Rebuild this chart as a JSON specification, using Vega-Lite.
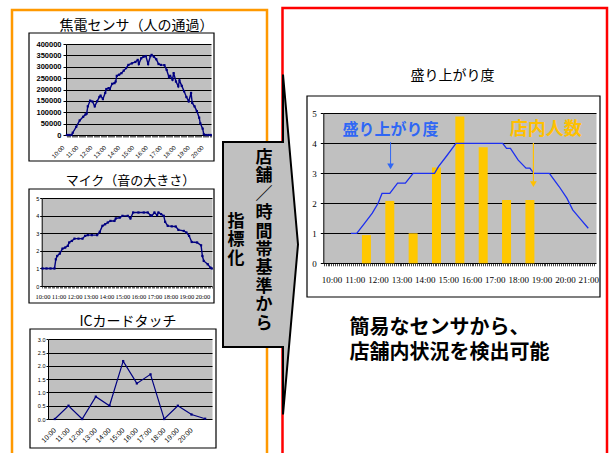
{
  "$schema": "https://vega.github.io/schema/vega-lite/v6.json",
  "width": 612,
  "height": 453,
  "autosize": {"type": "none"},
  "padding": 0,
  "background": "white",
  "config": {"view": {"stroke": null}, "axis": {"labelFont": "Liberation Sans", "labelColor": "black", "tickColor": "black", "domainColor": "black"}},
  "layer": [
    {
      "data": {"values": [{}]},
      "mark": {"type": "rect", "filled": false, "stroke": "#ff9900", "strokeWidth": 2.5},
      "encoding": {
        "x": {"datum": 0, "scale": {"domain": [0, 1], "range": [12, 267]}, "axis": null},
        "x2": {"datum": 1},
        "y": {"datum": 0, "scale": {"domain": [0, 1], "range": [10, 480]}, "axis": null},
        "y2": {"datum": 1}
      }
    },
    {
      "data": {"values": [{}]},
      "mark": {"type": "rect", "filled": false, "stroke": "#ff0000", "strokeWidth": 2.5},
      "encoding": {
        "x": {"datum": 0, "scale": {"domain": [0, 1], "range": [282.5, 607]}, "axis": null},
        "x2": {"datum": 1},
        "y": {"datum": 0, "scale": {"domain": [0, 1], "range": [8, 480]}, "axis": null},
        "y2": {"datum": 1}
      }
    },
    {
      "data": {"values": [{}]},
      "mark": {"type": "rect", "filled": false, "stroke": "black", "strokeWidth": 1.2},
      "encoding": {
        "x": {"datum": 0, "scale": {"domain": [0, 1], "range": [29, 214]}, "axis": null},
        "x2": {"datum": 1},
        "y": {"datum": 0, "scale": {"domain": [0, 1], "range": [33, 161]}, "axis": null},
        "y2": {"datum": 1}
      }
    },
    {
      "data": {"values": [{}]},
      "mark": {"type": "rect", "filled": false, "stroke": "black", "strokeWidth": 1.2},
      "encoding": {
        "x": {"datum": 0, "scale": {"domain": [0, 1], "range": [29, 214]}, "axis": null},
        "x2": {"datum": 1},
        "y": {"datum": 0, "scale": {"domain": [0, 1], "range": [189, 303]}, "axis": null},
        "y2": {"datum": 1}
      }
    },
    {
      "data": {"values": [{}]},
      "mark": {"type": "rect", "filled": false, "stroke": "black", "strokeWidth": 1.2},
      "encoding": {
        "x": {"datum": 0, "scale": {"domain": [0, 1], "range": [30, 216]}, "axis": null},
        "x2": {"datum": 1},
        "y": {"datum": 0, "scale": {"domain": [0, 1], "range": [329, 448]}, "axis": null},
        "y2": {"datum": 1}
      }
    },
    {
      "data": {"values": [{}]},
      "mark": {"type": "rect", "filled": false, "stroke": "black", "strokeWidth": 1.2},
      "encoding": {
        "x": {"datum": 0, "scale": {"domain": [0, 1], "range": [307, 600]}, "axis": null},
        "x2": {"datum": 1},
        "y": {"datum": 0, "scale": {"domain": [0, 1], "range": [96, 297]}, "axis": null},
        "y2": {"datum": 1}
      }
    },
    {
      "data": {
        "format": {"parse": {"t": "date:'%H:%M'"}},
        "values": [
          {"t": "10:00", "v": 0}, {"t": "10:10", "v": 0}, {"t": "10:20", "v": 0}, {"t": "10:25", "v": 10000},
          {"t": "10:40", "v": 36000}, {"t": "10:55", "v": 64000}, {"t": "11:10", "v": 80000}, {"t": "11:20", "v": 90000},
          {"t": "11:25", "v": 94000}, {"t": "11:30", "v": 126000}, {"t": "11:40", "v": 151000}, {"t": "11:50", "v": 147000},
          {"t": "12:00", "v": 126000}, {"t": "12:10", "v": 148000}, {"t": "12:20", "v": 167000}, {"t": "12:25", "v": 173000},
          {"t": "12:35", "v": 158000}, {"t": "12:45", "v": 185000}, {"t": "12:50", "v": 202000}, {"t": "13:00", "v": 206000},
          {"t": "13:05", "v": 202000}, {"t": "13:15", "v": 225000}, {"t": "13:25", "v": 228000}, {"t": "13:30", "v": 235000},
          {"t": "13:35", "v": 260000}, {"t": "13:45", "v": 265000}, {"t": "13:55", "v": 272000}, {"t": "14:05", "v": 283000},
          {"t": "14:15", "v": 294000}, {"t": "14:25", "v": 308000}, {"t": "14:40", "v": 315000}, {"t": "14:55", "v": 321000},
          {"t": "15:05", "v": 330000}, {"t": "15:10", "v": 312000}, {"t": "15:20", "v": 337000}, {"t": "15:30", "v": 344000},
          {"t": "15:40", "v": 347000}, {"t": "15:50", "v": 312000}, {"t": "16:00", "v": 347000}, {"t": "16:05", "v": 352000},
          {"t": "16:15", "v": 344000}, {"t": "16:25", "v": 333000}, {"t": "16:35", "v": 312000}, {"t": "16:45", "v": 308000},
          {"t": "17:00", "v": 307000}, {"t": "17:10", "v": 286000}, {"t": "17:20", "v": 254000}, {"t": "17:25", "v": 260000},
          {"t": "17:35", "v": 243000}, {"t": "17:40", "v": 272000}, {"t": "17:50", "v": 235000}, {"t": "18:00", "v": 214000},
          {"t": "18:05", "v": 240000}, {"t": "18:15", "v": 216000}, {"t": "18:25", "v": 192000}, {"t": "18:35", "v": 167000},
          {"t": "18:45", "v": 148000}, {"t": "18:55", "v": 185000}, {"t": "19:00", "v": 141000}, {"t": "19:10", "v": 126000},
          {"t": "19:20", "v": 105000}, {"t": "19:30", "v": 76000}, {"t": "19:35", "v": 51000}, {"t": "19:45", "v": 28000},
          {"t": "19:50", "v": 3000}, {"t": "20:00", "v": 0}, {"t": "20:10", "v": 0}, {"t": "20:20", "v": 0}
        ]
      },
      "layer": [
        {
          "mark": {"type": "line", "color": "#000080", "strokeWidth": 1.4},
          "encoding": {
            "x": {"field": "t", "type": "temporal",
              "scale": {"domain": [{"year": 1900, "month": 1, "date": 1, "hours": 9, "minutes": 56}, {"year": 1900, "month": 1, "date": 1, "hours": 20, "minutes": 21}], "range": [66, 211]},
              "axis": {"orient": "bottom", "offset": -318, "tickCount": 125, "labels": false, "domain": false, "grid": false, "ticks": true, "tickSize": 2, "tickWidth": 0.6, "title": null}},
            "y": {"field": "v", "type": "quantitative",
              "scale": {"domain": [0, 400000], "range": [135, 44]},
              "axis": {"orient": "left", "offset": -66, "values": [200000], "labels": false, "ticks": false, "domain": false, "grid": true, "gridColor": "#c0c0c0", "gridWidth": 91, "gridOpacity": 1,
                "title": "焦電センサ（人の通過）", "titleAngle": 0, "titleX": 70, "titleY": 25, "titleAlign": "center", "titleBaseline": "middle", "titleFont": "Noto Sans CJK JP", "titleFontSize": 14, "titleFontWeight": "normal", "titleColor": "black"}}
          }
        },
        {
          "mark": {"type": "point", "shape": "square", "filled": true, "color": "#000080", "size": 5, "opacity": 1},
          "encoding": {
            "x": {"field": "t", "type": "temporal",
              "axis": {"orient": "bottom", "offset": -318, "tickCount": 11, "format": "%H:%M", "labelAngle": -45, "labelFontSize": 6, "labelPadding": 9, "labelOffset": -6, "labelOverlap": false, "labelFlush": false, "ticks": false, "domain": false, "grid": false, "title": null}},
            "y": {"field": "v", "type": "quantitative",
              "axis": {"orient": "left", "offset": -66, "values": [0, 50000, 100000, 150000, 200000, 250000, 300000, 350000, 400000], "format": "d", "labelFontSize": 7.5, "labelFontWeight": "bold", "labelPadding": 2, "tickSize": 3, "grid": true, "gridColor": "black", "gridWidth": 1, "gridOpacity": 1, "domain": true, "title": null}}
          }
        }
      ],
      "resolve": {"axis": {"x": "independent", "y": "independent"}}
    },
    {
      "data": {
        "format": {"parse": {"t": "date:'%H:%M'"}},
        "values": [
          {"t": "10:00", "v": 1.0}, {"t": "10:15", "v": 1.0}, {"t": "10:30", "v": 1.0}, {"t": "10:45", "v": 1.0},
          {"t": "10:50", "v": 1.52}, {"t": "10:55", "v": 1.71}, {"t": "11:05", "v": 1.85}, {"t": "11:15", "v": 2.13},
          {"t": "11:25", "v": 2.19}, {"t": "11:35", "v": 2.29}, {"t": "11:40", "v": 2.48}, {"t": "11:50", "v": 2.57},
          {"t": "12:00", "v": 2.70}, {"t": "12:15", "v": 2.70}, {"t": "12:30", "v": 2.70}, {"t": "12:40", "v": 2.86},
          {"t": "12:50", "v": 2.90}, {"t": "13:05", "v": 2.90}, {"t": "13:25", "v": 2.90}, {"t": "13:35", "v": 3.09},
          {"t": "13:45", "v": 3.43}, {"t": "13:55", "v": 3.52}, {"t": "14:05", "v": 3.62}, {"t": "14:15", "v": 3.71},
          {"t": "14:30", "v": 3.71}, {"t": "14:35", "v": 3.85}, {"t": "14:50", "v": 3.90}, {"t": "15:00", "v": 4.0},
          {"t": "15:20", "v": 4.0}, {"t": "15:30", "v": 3.85}, {"t": "15:40", "v": 4.19}, {"t": "16:00", "v": 4.19},
          {"t": "16:20", "v": 4.19}, {"t": "16:35", "v": 4.19}, {"t": "16:45", "v": 4.04}, {"t": "16:50", "v": 4.0},
          {"t": "17:00", "v": 4.19}, {"t": "17:10", "v": 4.04}, {"t": "17:15", "v": 4.19}, {"t": "17:25", "v": 4.1},
          {"t": "17:35", "v": 4.0}, {"t": "17:40", "v": 3.66}, {"t": "17:50", "v": 3.43}, {"t": "18:05", "v": 3.40},
          {"t": "18:20", "v": 3.39}, {"t": "18:30", "v": 3.2}, {"t": "18:50", "v": 3.14}, {"t": "19:00", "v": 3.05},
          {"t": "19:10", "v": 2.86}, {"t": "19:20", "v": 2.51}, {"t": "19:40", "v": 2.48}, {"t": "19:55", "v": 2.32},
          {"t": "20:00", "v": 1.71}, {"t": "20:05", "v": 1.43}, {"t": "20:20", "v": 1.24}, {"t": "20:30", "v": 1.05},
          {"t": "20:35", "v": 1.0}
        ]
      },
      "layer": [
        {
          "mark": {"type": "line", "color": "#000080", "strokeWidth": 1.4},
          "encoding": {
            "x": {"field": "t", "type": "temporal",
              "scale": {"domain": [{"year": 1900, "month": 1, "date": 1, "hours": 9, "minutes": 57}, {"year": 1900, "month": 1, "date": 1, "hours": 20, "minutes": 36}], "range": [41.7, 212]},
              "axis": {"orient": "bottom", "offset": -167, "tickCount": 128, "labels": false, "domain": false, "grid": false, "ticks": true, "tickSize": 2, "tickWidth": 0.6, "title": null}},
            "y": {"field": "v", "type": "quantitative",
              "scale": {"domain": [0, 5], "range": [286, 198.3]},
              "axis": {"orient": "left", "offset": -41.7, "values": [2.5], "labels": false, "ticks": false, "domain": false, "grid": true, "gridColor": "#c0c0c0", "gridWidth": 87.7, "gridOpacity": 1,
                "title": "マイク（音の大きさ）", "titleAngle": 0, "titleX": 88.3, "titleY": 180, "titleAlign": "center", "titleBaseline": "middle", "titleFont": "Noto Sans CJK JP", "titleFontSize": 13, "titleFontWeight": "normal", "titleColor": "black"}}
          }
        },
        {
          "mark": {"type": "point", "shape": "square", "filled": true, "color": "#000080", "size": 5, "opacity": 1},
          "encoding": {
            "x": {"field": "t", "type": "temporal",
              "axis": {"orient": "bottom", "offset": -167, "tickCount": 11, "format": "%H:%M", "labelAngle": 0, "labelFont": "Liberation Sans Narrow", "labelFontSize": 6.5, "labelPadding": 7, "labelOverlap": false, "labelFlush": false, "ticks": false, "domain": false, "grid": false, "title": null}},
            "y": {"field": "v", "type": "quantitative",
              "axis": {"orient": "left", "offset": -41.7, "values": [0, 1, 2, 3, 4, 5], "labelFontSize": 5.5, "labelPadding": 1, "tickSize": 2, "grid": true, "gridColor": "black", "gridWidth": 1, "gridOpacity": 1, "domain": true, "title": null}}
          }
        }
      ],
      "resolve": {"axis": {"x": "independent", "y": "independent"}}
    },
    {
      "data": {
        "values": [
          {"t": "10:00", "v": 0}, {"t": "11:00", "v": 0.5}, {"t": "12:00", "v": 0}, {"t": "13:00", "v": 0.84},
          {"t": "14:00", "v": 0.5}, {"t": "15:00", "v": 2.18}, {"t": "16:00", "v": 1.34}, {"t": "17:00", "v": 1.68},
          {"t": "18:00", "v": 0}, {"t": "19:00", "v": 0.5}, {"t": "20:00", "v": 0.17}, {"t": "21:00", "v": 0.01}
        ]
      },
      "layer": [
        {
          "mark": {"type": "line", "color": "#000080", "strokeWidth": 1.2},
          "encoding": {
            "x": {"field": "t", "type": "ordinal",
              "scale": {"type": "point", "padding": 0.5, "range": [48, 212]},
              "axis": {"orient": "bottom", "offset": -34, "values": ["10:00", "11:00", "12:00", "13:00", "14:00", "15:00", "16:00", "17:00", "18:00", "19:00", "20:00"], "labelAngle": -45, "labelFontSize": 7, "labelPadding": 7, "labelOffset": -3, "labelOverlap": false, "ticks": false, "domain": false, "grid": false, "title": null}},
            "y": {"field": "v", "type": "quantitative",
              "scale": {"domain": [0, 3], "range": [419, 339.3]},
              "axis": {"orient": "left", "offset": -48, "values": [1.5], "labels": false, "ticks": false, "domain": false, "grid": true, "gridColor": "#c0c0c0", "gridWidth": 79.7, "gridOpacity": 1,
                "title": "ICカードタッチ", "titleAngle": 0, "titleX": 79.5, "titleY": 321, "titleAlign": "center", "titleBaseline": "middle", "titleFont": "Noto Sans CJK JP", "titleFontSize": 14, "titleFontWeight": "normal", "titleColor": "black"}}
          }
        },
        {
          "mark": {"type": "point", "shape": "square", "filled": true, "color": "#000080", "size": 5, "opacity": 1},
          "encoding": {
            "x": {"field": "t", "type": "ordinal", "axis": null},
            "y": {"field": "v", "type": "quantitative",
              "axis": {"orient": "left", "offset": -48, "values": [0, 0.5, 1, 1.5, 2, 2.5, 3], "labelFontSize": 5.5, "labelPadding": 1, "tickSize": 2, "grid": true, "gridColor": "black", "gridWidth": 1, "gridOpacity": 1, "domain": true, "title": null}}
          }
        }
      ],
      "resolve": {"axis": {"x": "independent", "y": "independent"}}
    },
    {
      "layer": [
        {
          "data": {
            "format": {"parse": {"t": "date:'%H:%M'"}},
            "values": [
              {"t": "11:30", "v": 0.94}, {"t": "12:30", "v": 2.08}, {"t": "13:30", "v": 1.0}, {"t": "14:30", "v": 3.19},
              {"t": "15:30", "v": 4.89}, {"t": "16:30", "v": 3.87}, {"t": "17:30", "v": 2.11}, {"t": "18:30", "v": 2.11}
            ]
          },
          "mark": {"type": "bar", "color": "#ffc800", "size": 9},
          "encoding": {
            "x": {"field": "t", "type": "temporal",
              "scale": {"domain": [{"year": 1900, "month": 1, "date": 1, "hours": 9, "minutes": 52}, {"year": 1900, "month": 1, "date": 1, "hours": 21, "minutes": 7}], "range": [323.3, 596]},
              "axis": {"orient": "bottom", "offset": -189.7, "tickCount": 135, "labels": false, "domain": false, "grid": false, "ticks": true, "tickSize": 2.5, "tickWidth": 0.7, "title": null}},
            "y": {"field": "v", "type": "quantitative",
              "scale": {"domain": [0, 5], "range": [263.3, 113.3]},
              "axis": {"orient": "left", "offset": -323.3, "values": [2.5], "labels": false, "ticks": false, "domain": false, "grid": true, "gridColor": "#c0c0c0", "gridWidth": 150, "gridOpacity": 1,
                "title": "盛り上がり度", "titleAngle": 0, "titleX": 128.7, "titleY": 75, "titleAlign": "center", "titleBaseline": "middle", "titleFont": "Noto Sans CJK JP", "titleFontSize": 14, "titleFontWeight": "normal", "titleColor": "black"}}
          }
        },
        {
          "data": {
            "format": {"parse": {"t": "date:'%H:%M'"}},
            "values": [
              {"t": "10:50", "v": 1.0}, {"t": "11:05", "v": 1.0}, {"t": "11:25", "v": 1.33}, {"t": "11:45", "v": 1.67},
              {"t": "12:00", "v": 2.0}, {"t": "12:10", "v": 2.33}, {"t": "12:30", "v": 2.33}, {"t": "12:50", "v": 2.67},
              {"t": "13:10", "v": 2.67}, {"t": "13:30", "v": 3.0}, {"t": "14:25", "v": 3.0}, {"t": "14:35", "v": 3.22},
              {"t": "14:55", "v": 3.56}, {"t": "15:20", "v": 4.0}, {"t": "17:20", "v": 4.0}, {"t": "17:30", "v": 3.83},
              {"t": "17:40", "v": 3.83}, {"t": "18:00", "v": 3.44}, {"t": "18:20", "v": 3.17}, {"t": "18:30", "v": 3.17},
              {"t": "18:40", "v": 3.0}, {"t": "19:20", "v": 3.0}, {"t": "19:45", "v": 2.56}, {"t": "20:05", "v": 2.17},
              {"t": "20:20", "v": 1.78}, {"t": "20:40", "v": 1.47}, {"t": "21:00", "v": 1.17}
            ]
          },
          "mark": {"type": "line", "color": "#1c2ff0", "strokeWidth": 1.3},
          "encoding": {
            "x": {"field": "t", "type": "temporal",
              "axis": {"orient": "bottom", "offset": -189.7, "tickCount": 12, "format": "%H:%M", "labelAngle": 0, "labelFont": "Liberation Sans Narrow", "labelFontSize": 9, "labelPadding": 12, "labelOverlap": false, "labelFlush": false, "ticks": false, "domain": false, "grid": false,
                "title": ["簡易なセンサから、", "店舗内状況を検出可能"], "titleX": 349, "titleY": 53.7, "titleAngle": 0, "titleAlign": "left", "titleBaseline": "top", "titleFont": "Noto Sans CJK JP", "titleFontSize": 20, "titleFontWeight": "bold", "titleLineHeight": 25, "titleColor": "black"}},
            "y": {"field": "v", "type": "quantitative",
              "axis": {"orient": "left", "offset": -323.3, "values": [0, 1, 2, 3, 4, 5], "labelFont": "Liberation Sans Narrow", "labelFontSize": 9, "labelPadding": 4, "tickSize": 3, "grid": true, "gridColor": "black", "gridWidth": 1, "gridOpacity": 1, "domain": true, "title": null}}
          }
        },
        {
          "data": {"values": [{}]},
          "mark": {"type": "text", "text": "盛り上がり度", "font": "Noto Sans CJK JP", "fontSize": 16, "fontWeight": "bold", "color": "#2f67f5", "align": "center", "baseline": "middle"},
          "encoding": {
            "x": {"datum": {"year": 1900, "month": 1, "date": 1, "hours": 12, "minutes": 32}, "type": "temporal", "axis": null},
            "y": {"datum": 4.44, "axis": null}
          }
        },
        {
          "data": {"values": [{}]},
          "mark": {"type": "text", "text": "店内人数", "font": "Noto Sans CJK JP", "fontSize": 18, "fontWeight": "bold", "color": "#ffc000", "align": "center", "baseline": "middle"},
          "encoding": {
            "x": {"datum": {"year": 1900, "month": 1, "date": 1, "hours": 19, "minutes": 11}, "type": "temporal", "axis": null},
            "y": {"datum": 4.44, "axis": null}
          }
        },
        {
          "data": {"values": [{}]},
          "mark": {"type": "rule", "color": "#2f67f5", "strokeWidth": 1},
          "encoding": {
            "x": {"datum": {"year": 1900, "month": 1, "date": 1, "hours": 12, "minutes": 32}, "type": "temporal", "axis": null},
            "y": {"datum": 4.04, "axis": null},
            "y2": {"datum": 3.3}
          }
        },
        {
          "data": {"values": [{}]},
          "mark": {"type": "point", "shape": "triangle-down", "filled": true, "size": 45, "color": "#2f67f5", "opacity": 1},
          "encoding": {
            "x": {"datum": {"year": 1900, "month": 1, "date": 1, "hours": 12, "minutes": 32}, "type": "temporal", "axis": null},
            "y": {"datum": 3.23, "axis": null}
          }
        },
        {
          "data": {"values": [{}]},
          "mark": {"type": "rule", "color": "#ffc000", "strokeWidth": 1.2},
          "encoding": {
            "x": {"datum": {"year": 1900, "month": 1, "date": 1, "hours": 18, "minutes": 39}, "type": "temporal", "axis": null},
            "y": {"datum": 4.01, "axis": null},
            "y2": {"datum": 2.72}
          }
        },
        {
          "data": {"values": [{}]},
          "mark": {"type": "point", "shape": "triangle-down", "filled": true, "size": 45, "color": "#ffc000", "opacity": 1},
          "encoding": {
            "x": {"datum": {"year": 1900, "month": 1, "date": 1, "hours": 18, "minutes": 39}, "type": "temporal", "axis": null},
            "y": {"datum": 2.64, "axis": null}
          }
        }
      ],
      "resolve": {"axis": {"x": "independent", "y": "independent"}}
    },
    {
      "data": {"values": [{}]},
      "layer": [
        {
          "mark": {"type": "point", "shape": "M -0.6 -1.025 L 0 -1.025 L 0 -1.7 L 0.15 0 L 0 1.7 L 0 1.025 L -0.6 1.025 Z", "size": 40000, "filled": true, "fill": "#c0c0c0", "stroke": "black", "strokeWidth": 2, "opacity": 1, "fillOpacity": 1, "strokeJoin": "miter"},
          "encoding": {
            "x": {"datum": 1, "scale": {"domain": [0, 1], "range": [223, 283]}, "axis": null},
            "y": {"datum": 0.5, "scale": {"domain": [0, 1], "range": [142, 347]}, "axis": null}
          }
        },
        {
          "mark": {"type": "text", "text": ["店", "舗", "／", "時", "間", "帯", "基", "準", "か", "ら"], "font": "Noto Sans CJK JP", "fontSize": 17, "fontWeight": "bold", "lineHeight": 18.4, "color": "black", "align": "center", "baseline": "middle"},
          "encoding": {
            "x": {"datum": 0.683, "axis": null},
            "y": {"datum": 0.078, "axis": null}
          }
        },
        {
          "mark": {"type": "text", "text": ["指", "標", "化"], "font": "Noto Sans CJK JP", "fontSize": 17, "fontWeight": "bold", "lineHeight": 18.4, "color": "black", "align": "center", "baseline": "middle"},
          "encoding": {
            "x": {"datum": 0.217, "axis": null},
            "y": {"datum": 0.39, "axis": null}
          }
        }
      ]
    }
  ],
  "resolve": {"scale": {"x": "independent", "y": "independent"}, "axis": {"x": "independent", "y": "independent"}}
}
